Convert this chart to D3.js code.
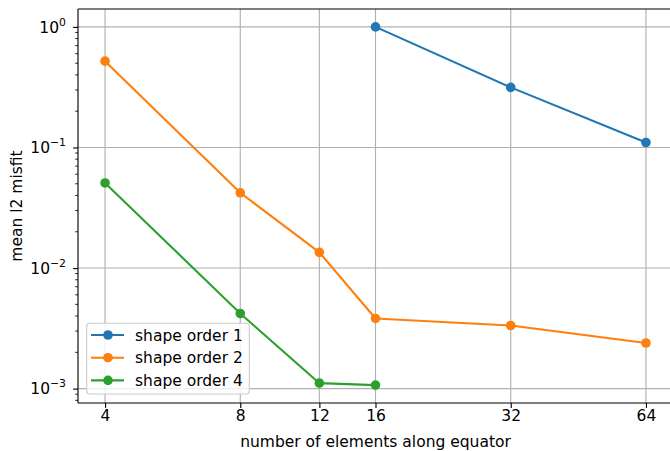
<!DOCTYPE html>
<html><head><meta charset="utf-8">
<script src="https://cdn.jsdelivr.net/npm/d3@7"></script>
<style>body{margin:0;background:#fff}svg{display:block;font-family:"DejaVu Sans",sans-serif}</style>
</head><body><svg id="c" width="670" height="451"></svg>
<script>
const xTicks = [4, 8, 12, 16, 32, 64];
const yTicks = [1e-3, 1e-2, 1e-1, 1];
const seriesNames = ["shape order 1", "shape order 2", "shape order 4"];
const colors = ["#1f77b4", "#ff7f0e", "#2ca02c"];
const order1X = [16, 32, 64];
const order1Y = [1.0, 0.315, 0.110];
const order2X = [4, 8, 12, 16, 32, 64];
const order2Y = [0.52, 0.0421, 0.0135, 0.00382, 0.00334, 0.00239];
const order4X = [4, 8, 12, 16];
const order4Y = [0.0508, 0.0042, 0.00111, 0.00107];

const series = [
  {name: seriesNames[0], color: colors[0], pts: order1X.map((x,i)=>[x, order1Y[i]])},
  {name: seriesNames[1], color: colors[1], pts: order2X.map((x,i)=>[x, order2Y[i]])},
  {name: seriesNames[2], color: colors[2], pts: order4X.map((x,i)=>[x, order4Y[i]])}
];

const svg = d3.select("#c");
const L = 78, R = 673, T = 9, B = 403;
const lx0 = Math.log2(4), lx1 = Math.log2(64), mx = (lx1-lx0)*0.05;
const x = d3.scaleLog().base(2).domain([Math.pow(2, lx0-mx), Math.pow(2, lx1+mx)]).range([L, R]);
const allY = series.flatMap(s=>s.pts.map(p=>p[1]));
const ly0 = Math.log10(d3.min(allY)), ly1 = Math.log10(d3.max(allY)), my = (ly1-ly0)*0.05;
const y = d3.scaleLog().domain([Math.pow(10, ly0-my), Math.pow(10, ly1+my)]).range([B, T]);

const fs = 15.5, fl = 15.5, lw = 1.13;
const g = svg.append("g");
xTicks.forEach(t=>g.append("line").attr("x1",x(t)).attr("x2",x(t)).attr("y1",T).attr("y2",B).attr("stroke","#b0b0b0").attr("stroke-width",lw));
yTicks.forEach(t=>g.append("line").attr("x1",L).attr("x2",R).attr("y1",y(t)).attr("y2",y(t)).attr("stroke","#b0b0b0").attr("stroke-width",lw));

const line = d3.line().x(d=>x(d[0])).y(d=>y(d[1]));
series.forEach(s=>{
  svg.append("path").attr("d", line(s.pts)).attr("fill","none").attr("stroke",s.color).attr("stroke-width",2.1).attr("stroke-linejoin","round");
  svg.selectAll(null).data(s.pts).enter().append("circle").attr("cx",d=>x(d[0])).attr("cy",d=>y(d[1])).attr("r",4.8).attr("fill",s.color);
});

const xAxis = d3.axisBottom(x).tickValues(xTicks).tickFormat(d3.format("d")).tickSize(4.9).tickPadding(2);
const xg = svg.append("g").attr("transform",`translate(0,${B})`).call(xAxis);
xg.select(".domain").remove();
xg.selectAll("line").attr("stroke","#000").attr("stroke-width",lw);
xg.selectAll("text").attr("font-size",fs).attr("font-family","DejaVu Sans").attr("fill","#000");

const yAxis = d3.axisLeft(y).tickValues(yTicks).tickFormat("").tickSize(4.9);
const yg = svg.append("g").attr("transform",`translate(${L},0)`).call(yAxis);
yg.select(".domain").remove();
yg.selectAll("line").attr("stroke","#000").attr("stroke-width",lw);
const minor = [];
const [d0, d1] = y.domain();
for (let e = Math.floor(Math.log10(d0)); e <= Math.ceil(Math.log10(d1)); e++) {
  for (let m = 2; m <= 9; m++) { const v = m*Math.pow(10,e); if (v>=d0 && v<=d1) minor.push(v); }
}
minor.forEach(v=>svg.append("line").attr("x1",L-2.8).attr("x2",L).attr("y1",y(v)).attr("y2",y(v)).attr("stroke","#000").attr("stroke-width",0.85));
yTicks.forEach(t=>{
  const e = Math.round(Math.log10(t));
  const tx = svg.append("text").attr("x",66).attr("y",y(t)+5.6).attr("text-anchor","end").attr("font-size",fs).attr("fill","#000");
  tx.append("tspan").text("10");
  tx.append("tspan").attr("dy",-6.8).attr("font-size",fs*0.7).text(e===0?"0":"\u2212"+(-e));
});

svg.append("line").attr("x1",L).attr("x2",L).attr("y1",T).attr("y2",B).attr("stroke","#000").attr("stroke-width",lw);
svg.append("line").attr("x1",L).attr("x2",R).attr("y1",B).attr("y2",B).attr("stroke","#000").attr("stroke-width",lw);
svg.append("line").attr("x1",L).attr("x2",R).attr("y1",T).attr("y2",T).attr("stroke","#000").attr("stroke-width",lw);
svg.append("line").attr("x1",R).attr("x2",R).attr("y1",T).attr("y2",B).attr("stroke","#000").attr("stroke-width",lw);

svg.append("text").attr("x",(L+R)/2).attr("y",446.5).attr("text-anchor","middle").attr("font-size",fl).text("number of elements along equator");
svg.append("text").attr("transform",`translate(21.7,${(T+B)/2}) rotate(-90)`).attr("text-anchor","middle").attr("font-size",fl).text("mean l2 misfit");

const lg = svg.append("g");
lg.append("rect").attr("x",86.7).attr("y",323.3).attr("width",162.6).attr("height",70.7).attr("rx",3)
  .attr("fill","#fff").attr("fill-opacity",0.8).attr("stroke","#cccccc").attr("stroke-width",lw);
series.forEach((s,i)=>{
  const yy = 335 + i*22.7;
  lg.append("line").attr("x1",91).attr("x2",124).attr("y1",yy).attr("y2",yy).attr("stroke",s.color).attr("stroke-width",2.1);
  lg.append("circle").attr("cx",108).attr("cy",yy).attr("r",4.8).attr("fill",s.color);
  lg.append("text").attr("x",135).attr("y",yy+5.5).attr("font-size",fs).text(s.name);
});
</script></body></html>
